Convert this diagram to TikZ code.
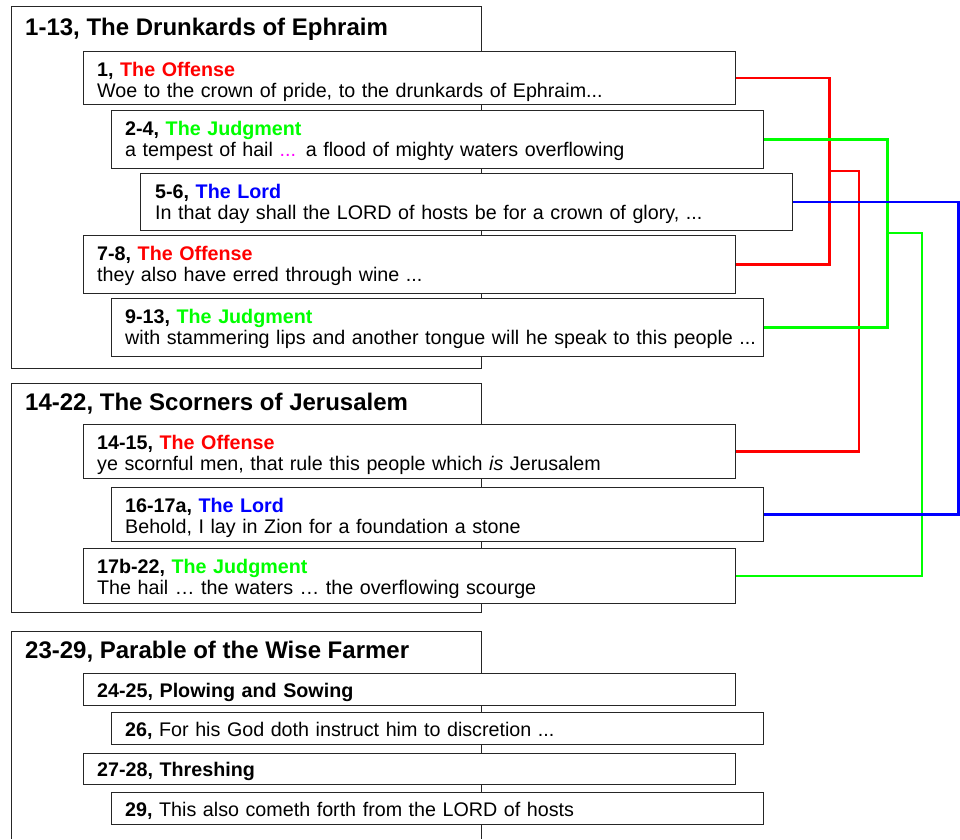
\documentclass[tikz,border=0pt]{standalone}
\usepackage{fontspec}
\setmainfont{Liberation Sans}

\definecolor{offense}{RGB}{255,0,0}
\definecolor{judgment}{RGB}{0,255,0}
\definecolor{lord}{RGB}{0,0,255}
\definecolor{dots}{RGB}{255,0,255}

\newcommand\head[3]{\textbf{#1, \textcolor{#2}{#3}}}

\begin{document}
\begin{tikzpicture}[
  x = 1pt, y = -1pt,
  every node/.style = {inner sep=0pt, font=\fontsize{19.7}{21.5}\selectfont},
  frame/.style = {draw=black!85, line width=0.8pt},
  verse/.style = {frame, fill=white, anchor=north west,
                  minimum width=652pt, minimum height=#1},
  txt/.style = {anchor=base west, align=left, text width=660pt},
  title/.style = {anchor=base west, font=\fontsize{24}{26}\selectfont\bfseries},
  link/.style = {draw=#1, line width=2.8pt},
]
\useasboundingbox (0,0) rectangle (960,839);

% sections
\draw[frame] (11,6) rectangle (481,368);
\draw[frame] (11,383) rectangle (481,612);
\draw[frame] (11,839) |- (481,631) -- (481,839);

\node[title] (s1) at (25,35)  {1-13, The Drunkards of Ephraim};
\node[title] (s2) at (25,410) {14-22, The Scorners of Jerusalem};
\node[title] (s3) at (25,658) {23-29, Parable of the Wise Farmer};

% 1-13
\node[verse=53pt] (b1) at ( 83,51)  {};
\node[verse=58pt] (b2) at (111,110) {};
\node[verse=57pt] (b5) at (140,173) {};
\node[verse=58pt] (b7) at ( 83,235) {};
\node[verse=58pt] (b9) at (111,298) {};

\node[txt] (t1) at ([shift={(14,25)}]b1.north west)
  {\head{1}{offense}{The Offense}\\Woe to the crown of pride, to the drunkards of Ephraim...};
\node[txt] (t2) at ([shift={(14,25)}]b2.north west)
  {\head{2-4}{judgment}{The Judgment}\\a tempest of hail \textcolor{dots}{...} a flood of mighty waters overflowing};
\node[txt] (t5) at ([shift={(15,25)}]b5.north west)
  {\head{5-6}{lord}{The Lord}\\In that day shall the LORD of hosts be for a crown of glory, ...};
\node[txt] (t7) at ([shift={(14,25)}]b7.north west)
  {\head{7-8}{offense}{The Offense}\\they also have erred through wine ...};
\node[txt] (t9) at ([shift={(14,25)}]b9.north west)
  {\head{9-13}{judgment}{The Judgment}\\with stammering lips and another tongue will he speak to this people ...};

% 14-22
\node[verse=54pt] (b14) at ( 83,424) {};
\node[verse=54pt] (b16) at (111,487) {};
\node[verse=55pt] (b17) at ( 83,548) {};

\node[txt] (t14) at ([shift={(14,25)}]b14.north west)
  {\head{14-15}{offense}{The Offense}\\ye scornful men, that rule this people which \textit{is} Jerusalem};
\node[txt] (t16) at ([shift={(14,25)}]b16.north west)
  {\head{16-17a}{lord}{The Lord}\\Behold, I lay in Zion for a foundation a stone};
\node[txt] (t17) at ([shift={(14,25)}]b17.north west)
  {\head{17b-22}{judgment}{The Judgment}\\The hail … the waters … the overflowing scourge};

% 23-29
\node[verse=32pt] (b24) at ( 83,673) {};
\node[verse=32pt] (b26) at (111,712) {};
\node[verse=31pt] (b27) at ( 83,753) {};
\node[verse=32pt] (b29) at (111,792) {};

\node[txt] (t24) at ([shift={(14,24)}]b24.north west) {\textbf{24-25, Plowing and Sowing}};
\node[txt] (t26) at ([shift={(14,24.5)}]b26.north west) {\textbf{26,} For his God doth instruct him to discretion ...};
\node[txt] (t27) at ([shift={(14,23)}]b27.north west) {\textbf{27-28, Threshing}};
\node[txt] (t29) at ([shift={(14,24.5)}]b29.north west) {\textbf{29,} This also cometh forth from the LORD of hosts};

% links
\coordinate (redfork)   at (829,171);
\coordinate (greenfork) at (887,233);

\draw[link=offense]  (b1.east) -- ++(94,0) |- (b7.east);
\draw[link=offense]  (redfork) -- ++(30,0) |- (b14.east);
\draw[link=judgment] (b2.east) -- ++(124,0) |- (b9.east);
\draw[link=judgment] (greenfork) -- ++(35,0) |- (b17.east);
\draw[link=lord]     (b5.east) -- ++(166,0) |- (b16.east);

\end{tikzpicture}
\end{document}
